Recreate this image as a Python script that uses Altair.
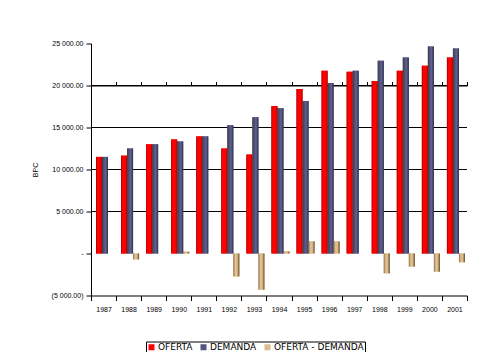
import altair as alt
import pandas as pd

years = ["1987", "1988", "1989", "1990", "1991", "1992", "1993", "1994",
         "1995", "1996", "1997", "1998", "1999", "2000", "2001"]
oferta = [11500, 11650, 13000, 13580, 13940, 12500, 11780, 17550,
          19590, 21750, 21630, 20550, 21750, 22350, 23320]
demanda = [11500, 12500, 13000, 13340, 13940, 15260, 16230, 17300,
           18150, 20310, 21750, 22950, 23320, 24640, 24400]
diferencia = [0, -700, 0, 220, 0, -2730, -4300, 250,
              1440, 1440, 0, -2360, -1560, -2160, -1040]
series = ["OFERTA", "DEMANDA", "OFERTA - DEMANDA"]
y_ticks = [-5000, 0, 5000, 10000, 15000, 20000, 25000]
grid_values = [5000, 10000, 15000, 20000]

rows = []
for name, vals in zip(series, [oferta, demanda, diferencia]):
    for yr, v in zip(years, vals):
        rows.append({"year": yr, "series": name, "value": v})
df = pd.DataFrame(rows)
df_grid = pd.DataFrame({"g": grid_values})

flat_colors = ["#FF0000", "#55557F", "#D9BC8A"]
gradients = {
    "OFERTA": [("#8E0000", 0), ("#FF0000", 0.2), ("#FF0000", 0.7), ("#B00000", 1)],
    "DEMANDA": [("#3E3E3E", 0), ("#4E4E7A", 0.3), ("#62628C", 0.6), ("#2E2E4E", 1)],
    "OFERTA - DEMANDA": [("#8C6E55", 0), ("#E6C68E", 0.35), ("#D8B880", 0.65), ("#5E4634", 1)],
}

FONT = "Liberation Sans"
LFONT = "DejaVu Sans"
H = 252

x_scale = alt.Scale(domain=years, paddingInner=0, paddingOuter=0)
xo_scale = alt.Scale(domain=series, paddingInner=0, paddingOuter=0.583, align=0.71)
y_scale = alt.Scale(domain=[-5000, 25000], nice=False, zero=False)

label_expr = ("datum.value == 0 ? '-\u00a0\u00a0\u00a0' : (datum.value < 0 ? "
              "'(' + replace(format(-datum.value, ',.2f'), ',', ' ') + ')' : "
              "replace(format(datum.value, ',.2f'), ',', ' '))")

grid = alt.Chart(df_grid).mark_rule(color="black", strokeWidth=1).encode(
    y=alt.Y("g:Q", scale=y_scale, axis=None)
)

base = alt.Chart(df).mark_bar().encode(
    x=alt.X("year:N", scale=x_scale,
            axis=alt.Axis(title=None, labelAngle=0, tickBand="extent",
                          domainColor="black", tickColor="black", tickSize=5,
                          labelPadding=5, labelFont=FONT, labelFontSize=7,
                          labelColor="black")),
    xOffset=alt.XOffset("series:N", scale=xo_scale),
    y=alt.Y("value:Q", scale=y_scale,
            axis=alt.Axis(title="BPC", values=y_ticks, grid=False,
                          labelExpr=label_expr, domainColor="black",
                          tickColor="black", tickSize=5, labelPadding=3,
                          labelFont=FONT, labelFontSize=7, labelColor="black",
                          titleFont=FONT, titleFontSize=7, titleFontWeight="normal",
                          titleColor="black", titleX=-53, titleY=126,
                          titleAngle=270, titleAlign="center")),
    color=alt.Color("series:N", scale=alt.Scale(domain=series, range=flat_colors),
                    legend=alt.Legend(title=None, orient="none", legendX=55, legendY=298,
                                      direction="horizontal", strokeColor="black",
                                      padding=1, symbolType="square", symbolSize=36,
                                      symbolStrokeWidth=0,
                                      labelFont=LFONT, labelFontSize=9,
                                      labelColor="black", columnPadding=6,
                                      symbolOffset=0, labelOffset=2)),
)

overlays = []
for i, name in enumerate(series):
    grad = alt.Gradient(gradient="linear", x1=0, x2=1, y1=0, y2=0,
                        stops=[alt.GradientStop(color=c, offset=o) for c, o in gradients[name]])
    if i == 0:
        xaxis = alt.Axis(title=None, labels=False, tickBand="extent", offset=-H / 6,
                         domainColor="black", tickColor="black", tickSize=4)
    else:
        xaxis = None
    overlays.append(
        alt.Chart(df).transform_filter(alt.datum.series == name).mark_bar(fill=grad).encode(
            x=alt.X("year:N", scale=x_scale, axis=xaxis),
            xOffset=alt.XOffset("series:N", scale=xo_scale),
            y=alt.Y("value:Q", scale=y_scale, axis=None),
        )
    )

chart = alt.layer(grid, base, *overlays).resolve_axis(x="independent", y="independent").properties(
    width=376, height=H,
    autosize=alt.AutoSizeParams(type="none"),
    padding={"left": 83, "top": 35.5, "right": 17, "bottom": 56.5},
    background="white",
).configure_view(stroke=None)

chart.save("out.html", embed_options={"renderer": "svg", "actions": False})
